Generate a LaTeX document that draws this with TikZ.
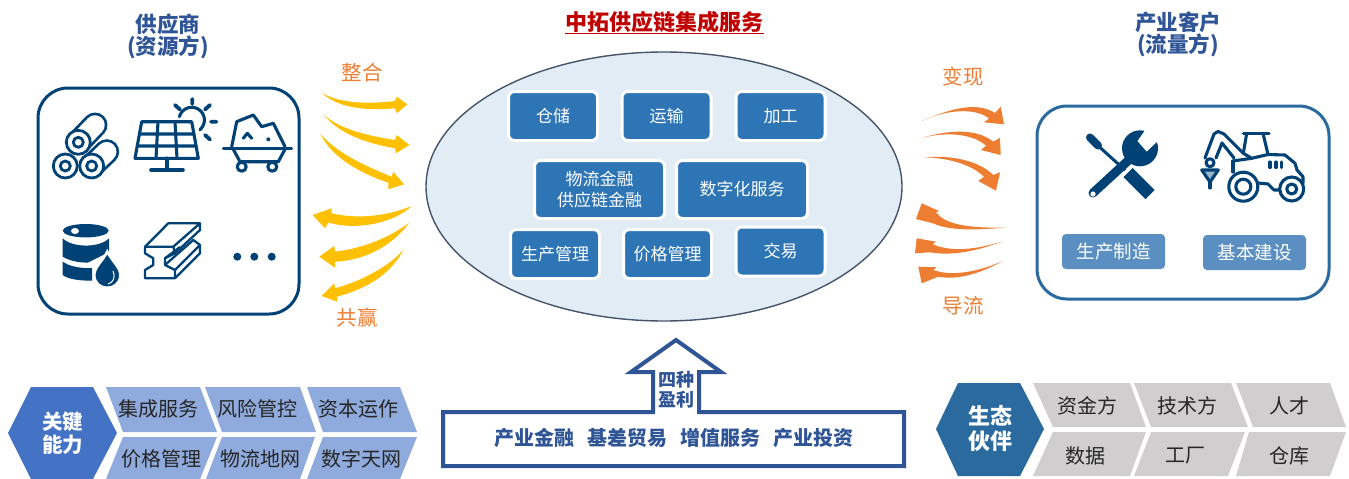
\documentclass[tikz,border=0pt]{standalone}
\usepackage{fontspec}
\setmainfont{Noto Sans CJK SC}
\usetikzlibrary{shapes.geometric}
\definecolor{navy}{HTML}{004275}
\definecolor{headblue}{HTML}{2F5597}
\definecolor{linkorange}{HTML}{ED7D31}
\definecolor{gold}{HTML}{FFC000}
\definecolor{boxblue}{HTML}{2E75B6}
\definecolor{lightblue}{HTML}{E1ECF5}
\definecolor{hubline}{HTML}{44546A}
\definecolor{titlered}{HTML}{C00000}
\definecolor{chev}{HTML}{8FAADC}
\definecolor{keyblue}{HTML}{4472C4}
\definecolor{ecoblue}{HTML}{2A6A9E}
\definecolor{graycell}{HTML}{D0CECE}
\definecolor{taglabel}{HTML}{5B8FC2}
\newcommand{\fs}[1]{\fontsize{#1pt}{#1pt}\selectfont}
\tikzset{
 headtext/.style={text=headblue,font=\fs{21.5}\bfseries,align=center,inner sep=0pt},
 linktext/.style={text=linkorange,font=\fs{20.5},inner sep=0pt},
 svcbox/.style={draw=white,line width=3pt,fill=boxblue,rounded corners=6pt,text=white,font=\fs{17},align=center,inner sep=0pt,minimum height=49pt},
 tagbox/.style={fill=taglabel,rounded corners=4pt,text=white,font=\fs{18.5},inner sep=0pt,minimum width=103pt,minimum height=35pt},
 celltext/.style={text=black!85,font=\fs{20},inner sep=0pt},
 hubtext/.style={text=white,font=\fs{20.5}\bfseries,align=center,inner sep=0pt},
 icon/.style={draw=navy,line width=3.1pt,line join=round,line cap=round},
 iconfill/.style={fill=navy,draw=none},
 swooshY/.style={fill=gold,draw=none},
 swooshO/.style={fill=linkorange,draw=none},
}
\begin{document}
\begin{tikzpicture}[x=1pt,y=-1pt]
\useasboundingbox (0,0) rectangle (1349,479);
% titles
\node[headtext] (supplier) at (168,36.5) {供应商\\[1pt](资源方)};
\node[text=titlered,font=\fs{22}\bfseries,inner sep=0pt] (title) at (664,22) {中拓供应链集成服务};
\draw[titlered,line width=1.6pt] (565,33.5) -- (764,33.5);
\node[headtext] (client) at (1178,34.5) {产业客户\\[1pt](流量方)};
\node[linktext] (lzh) at (362,73) {整合};
\node[linktext] (lgy) at (357,318) {共赢};
\node[linktext] (lbx) at (963,77) {变现};
\node[linktext] (ldl) at (963,306) {导流};
% frames
\node[draw=navy,line width=3pt,rounded corners=30pt,minimum width=261pt,minimum height=226pt,inner sep=0pt] (suppbox) at (168.5,201) {};
\node[draw=ecoblue,line width=3pt,rounded corners=30pt,minimum width=292pt,minimum height=193pt,inner sep=0pt] (clientbox) at (1183,202.5) {};
% hub
\node[ellipse,draw=hubline,line width=1.4pt,fill=lightblue,minimum width=476pt,minimum height=269pt,inner sep=0pt] (hub) at (664,186.5) {};
\node[svcbox,minimum width=89pt] (s1) at (553,116) {仓储};
\node[svcbox,minimum width=89pt] (s2) at (666.5,116) {运输};
\node[svcbox,minimum width=89pt] (s3) at (780.5,116) {加工};
\node[svcbox,minimum width=130pt,minimum height=58pt] (s4) at (599.5,189.5) {物流金融\\[4pt]供应链金融};
\node[svcbox,minimum width=131pt,minimum height=58pt] (s5) at (742,189.5) {数字化服务};
\node[svcbox,minimum width=89pt] (s6) at (555,254) {生产管理};
\node[svcbox,minimum width=88pt] (s7) at (667.5,254) {价格管理};
\node[svcbox,minimum width=89pt] (s8) at (780.5,251.5) {交易};
% yellow swooshes
\fill[swooshY] (321.7,92.7) .. controls (340,104) and (370,104) .. (395,101) -- (396.7,96.7) -- (407.3,104.3) -- (396.7,113.3) -- (395,108.3) .. controls (365,111) and (338,108) .. cycle;
\fill[swooshY] (323.3,114.3) .. controls (340,130) and (370,136) .. (395,140) -- (396.7,135) -- (409.3,145) -- (396,153.3) -- (395,148.3) .. controls (360,142) and (338,132) .. cycle;
\fill[swooshY] (320,133.3) .. controls (335,152) and (365,166) .. (391.7,176.7) -- (393.3,171.7) -- (404,184.3) -- (388.3,189.3) -- (388.3,182.7) .. controls (360,173) and (332,158) .. cycle;
\fill[swooshY] (411.7,206) .. controls (390,215) and (360,220) .. (331.7,213.3) -- (331.7,208.3) -- (312.7,215) -- (325,228.3) -- (328.3,222.7) .. controls (360,231) and (395,222) .. cycle;
\fill[swooshY] (409.3,222.7) .. controls (390,237) and (365,248) .. (335,251.7) -- (334.3,246) -- (319.3,256.7) -- (335,267.7) -- (335,261.7) .. controls (370,260) and (395,242) .. cycle;
\fill[swooshY] (403.3,250) .. controls (390,265) and (365,280) .. (335,288.3) -- (334.3,283.3) -- (321.7,296) -- (337.3,301.7) -- (336.7,296.7) .. controls (370,288) and (392,272) .. cycle;
% orange swooshes
\fill[swooshO] (921.7,121) .. controls (945,111) and (975,100) .. (995,113) -- (1000.7,106.7) -- (1004,124.3) -- (984,122.3) -- (989,118.5) .. controls (975,107) and (945,110) .. cycle;
\fill[swooshO] (922.7,137.7) .. controls (945,131) and (975,127) .. (993.3,141.7) -- (1000,137.7) -- (1000.7,155) -- (981,150) -- (986,145.7) .. controls (972,133) and (945,132) .. cycle;
\fill[swooshO] (924,157.3) .. controls (950,155) and (978,160) .. (993.3,175) -- (1000,172.3) -- (996,190.7) -- (978.3,181) -- (984,176.7) .. controls (972,165) and (950,158) .. cycle;
\fill[swooshO] (1005,227.7) .. controls (965,228) and (945,224) .. (936,212.3) -- (939,211) -- (921.7,203.3) -- (916,219) -- (933,223.3) .. controls (950,231) and (975,230) .. cycle;
\fill[swooshO] (1003.3,241) .. controls (985,247) and (955,254) .. (932.7,244.3) -- (936,241.7) -- (916.7,238.3) -- (915,253.3) -- (930,252.3) .. controls (950,256) and (975,252) .. cycle;
\fill[swooshO] (1002.7,261) .. controls (985,269) and (955,278) .. (933.3,270) -- (936.7,267.3) -- (918.3,266.7) -- (921.7,283.3) -- (938.3,276.7) .. controls (960,281) and (985,271) .. cycle;
% rolls
\draw[navy,line width=25pt,line cap=round] (106.7,151.7) -- (91.7,166);
\draw[white,line width=19.5pt,line cap=round] (106.7,151.7) -- (91.7,166);
\draw[navy,line width=25pt,line cap=round] (95,125) -- (78.3,142.3);
\draw[white,line width=19.5pt,line cap=round] (95,125) -- (78.3,142.3);
\foreach \cx/\cy in {78.3/142.3,65.3/166,91.7/166}{
 \draw[navy,line width=2.8pt,fill=white] (\cx,\cy) circle[radius=12];
 \draw[navy,line width=2.8pt,fill=white] (\cx,\cy) circle[radius=5];
}
% solar panel
\draw[icon] (141.7,121.7) -- (191.7,121.7) -- (198.3,158.3) -- (135,158.3) -- cycle;
\draw[icon] (158,121.7) -- (156,158.3) (175,121.7) -- (177,158.3) (139.5,134) -- (194,134) (137.3,146) -- (196,146);
\draw[icon,line width=3.6pt] (166.7,158.3) -- (166.7,170) (151,170) -- (183,170);
\draw[icon] plot[domain=-50:165,samples=24] ({191.7+12.7*cos(\x)},{120-12.7*sin(\x)});
\draw[icon,line width=3.8pt] (192.3,99) -- (192.3,104) (175,105) -- (180,109.5) (210,105) -- (205,109.5) (211,121.7) -- (216.5,121.7) (205,135) -- (210,139.5);
% cart
\draw[icon] (231.7,146.7) -- (236.7,121.7) -- (253.3,115) -- (261.7,126.7) -- (273.3,123.3) -- (285,146.7);
\draw[icon] (223.3,148.3) -- (291.7,148.3);
\draw[icon] (233.3,149.3) -- (240,161.7) -- (278.3,161.7) -- (285,149.3);
\draw[icon,fill=white] (241.7,166.7) circle[radius=4.5];
\draw[icon,fill=white] (272.3,166.7) circle[radius=4.5];
\draw[icon] (243.3,138.3) -- (247.3,133.3) -- (251.7,138.3);
\fill[navy] (268.3,139.3) circle[radius=2];
% barrel
\fill[iconfill] (85.7,230.7) circle[x radius=23,y radius=6.7];
\fill[white] (75,231) circle[x radius=4,y radius=3];
\fill[iconfill] (62.7,238.3) .. controls (72,248) and (100,248) .. (109,238.3) -- (109,252) -- (88,262.5) .. controls (78,263) and (68,260) .. (62.7,256.7) -- cycle;
\fill[iconfill] (62.7,261.7) .. controls (68,265.5) and (76,267.5) .. (85,268) -- (92,268) -- (92,280.7) .. controls (78,280.7) and (68,279) .. (62.7,275) -- cycle;
\draw[white,line width=2.5pt,fill=navy] (107.3,251.5) .. controls (103,261) and (94.3,267) .. (94.3,275) .. controls (94.3,292) and (120.3,292) .. (120.3,275) .. controls (120.3,267) and (111.6,261) .. (107.3,251.5) -- cycle;
\draw[white,line width=1pt] (113,271) .. controls (116,277) and (113,283) .. (108,284);
% beam
\draw[navy,line width=2.3pt,line join=round,fill=white] (145,246.7) -- (173.3,246.7) -- (175,253.3) -- (165,258.3) -- (165,265) -- (175,270) -- (175,278.3) -- (145,278.3) -- (145,270) -- (153.3,265) -- (153.3,258.3) -- (145,253.3) -- cycle;
\draw[navy,line width=2.3pt,line join=round] (145,246.7) -- (168.3,223.3) -- (200,223.3) -- (173.3,246.7) (200,223.3) -- (200,230) -- (175,253.3);
\draw[navy,line width=2.3pt,line join=round] (175,270) -- (200,245) -- (200,253.3) -- (175,278.3) (165,258.3) -- (180,247) (165,265) -- (193.3,240) -- (200,245);
% dots
\fill[navy] (237.3,256.7) circle[radius=4];
\fill[navy] (254.3,256.7) circle[radius=4];
\fill[navy] (271.7,256.7) circle[radius=4];
% tools
\fill[navy] (1140,148.3) circle[radius=18];
\fill[white] (1146.7,128) -- (1137.5,141) -- (1146.7,151.5) -- (1160,139) -- (1170,125) -- (1150,118) -- cycle;
\draw[navy,line width=9pt,line cap=round] (1131,158) -- (1093,193);
\fill[white] (1093,194) circle[radius=2.6];
\draw[navy,line width=3pt] (1095,143) -- (1126,171);
\draw[navy,line width=8pt,line cap=round] (1090,137.5) -- (1098,145.5);
\draw[white,line width=16pt] (1125.5,170) -- (1129,173.5);
\draw[navy,line width=13pt,line join=round] (1128,172.5) -- (1150,194.5);
% tractor
\draw[icon,fill=white] (1243.3,186.7) circle[radius=14.5];
\draw[icon,fill=white] (1243.3,186.7) circle[radius=7.5];
\draw[icon,fill=white] (1291.7,189) circle[radius=12];
\draw[icon,fill=white] (1291.7,189) circle[radius=5];
\draw[icon] (1243.3,133.3) -- (1269,133.3);
\draw[icon] (1246.7,133.3) -- (1243.3,153.3) -- (1251.7,158.3) -- (1268,154.5) -- (1263,133.3);
\draw[icon] (1233,161) -- (1251.7,158.3) (1268,154.5) -- (1285,155) -- (1295,163.3) -- (1297,170) -- (1303,176.7) -- (1303,183);
\draw[icon] (1233,172) -- (1233,161);
\draw[icon] (1258,183) -- (1268,184) -- (1274,190) -- (1279.5,190);
\draw[icon] (1270,162) -- (1270,167.5) (1276,162) -- (1276,167.5) (1281.7,162) -- (1281.7,167.5);
\draw[icon] (1205,158) -- (1214,134) -- (1218,131.5) -- (1224,134) -- (1243,153);
\draw[icon] (1216,158) -- (1222,143) -- (1234,158);
\draw[icon,fill=white] (1210,162.7) circle[radius=4];
\draw[icon,fill=navy!40] (1201.7,170) -- (1218.3,170) -- (1210,182) -- cycle;
\draw[icon] (1210,182) -- (1210,188);
% client tags
\node[tagbox] (t1) at (1113.5,251.5) {生产制造};
\node[tagbox] (t2) at (1254.5,252.5) {基本建设};
% key abilities
\fill[keyblue] (31,387) -- (93,387) -- (117,433) -- (93,479) -- (31,479) -- (8,433) -- cycle;
\node[hubtext] (key) at (62.5,433) {关键\\[3pt]能力};
\fill[chev] (106,387) -- (200,387) -- (217,432) -- (123,432) -- cycle;
\fill[chev] (205,387) -- (300,387) -- (316,432) -- (222,432) -- cycle;
\fill[chev] (307,387) -- (400,387) -- (417,432) -- (323,432) -- cycle;
\fill[chev] (123,437) -- (217,437) -- (200,479) -- (106,479) -- cycle;
\fill[chev] (222,437) -- (315,437) -- (300,479) -- (206,479) -- cycle;
\fill[chev] (323,437) -- (417,437) -- (400,479) -- (307,479) -- cycle;
\node[celltext] (k1) at (158,409) {集成服务};
\node[celltext] (k2) at (257,409) {风险管控};
\node[celltext] (k3) at (358,409) {资本运作};
\node[celltext] (k4) at (161,459) {价格管理};
\node[celltext] (k5) at (260,459) {物流地网};
\node[celltext] (k6) at (361,459) {数字天网};
% four profits
\draw[headblue,line width=4pt,fill=white,line join=miter] (443,412) -- (653,412) -- (653,372) -- (631,372) -- (676,340) -- (721,372) -- (699,372) -- (699,412) -- (904,412) -- (904,466) -- (443,466) -- cycle;
\node[text=headblue,font=\fs{18}\bfseries,align=center,inner sep=0pt] (profit) at (676,389.5) {四种\\[2pt]盈利};
\node[text=headblue,font=\fs{20}\bfseries,inner sep=0pt] (plist) at (674,438) {产业金融\hspace{13pt}基差贸易\hspace{13pt}增值服务\hspace{13pt}产业投资};
% partners
\fill[ecoblue] (958,383) -- (1020,383) -- (1044,429) -- (1020,476) -- (958,476) -- (936,429) -- cycle;
\node[hubtext,font=\fs{22}\bfseries] (eco) at (990,429) {生态\\[3pt]伙伴};
\fill[graycell] (1033,383) -- (1130,383) -- (1146,427) -- (1053,427) -- cycle;
\fill[graycell] (1134,383) -- (1231,383) -- (1248,427) -- (1151,427) -- cycle;
\fill[graycell] (1236,383) -- (1330,383) -- (1346,427) -- (1253,427) -- cycle;
\fill[graycell] (1053,432) -- (1146,432) -- (1130,476) -- (1033,476) -- cycle;
\fill[graycell] (1151,432) -- (1245,432) -- (1228,476) -- (1134,476) -- cycle;
\fill[graycell] (1249,432) -- (1346,432) -- (1330,476) -- (1236,476) -- cycle;
\node[celltext] (p1) at (1087,406) {资金方};
\node[celltext] (p2) at (1187,406) {技术方};
\node[celltext] (p3) at (1289,406) {人才};
\node[celltext] (p4) at (1085,456) {数据};
\node[celltext] (p5) at (1185,456) {工厂};
\node[celltext] (p6) at (1289,456) {仓库};
\end{tikzpicture}
\end{document}
